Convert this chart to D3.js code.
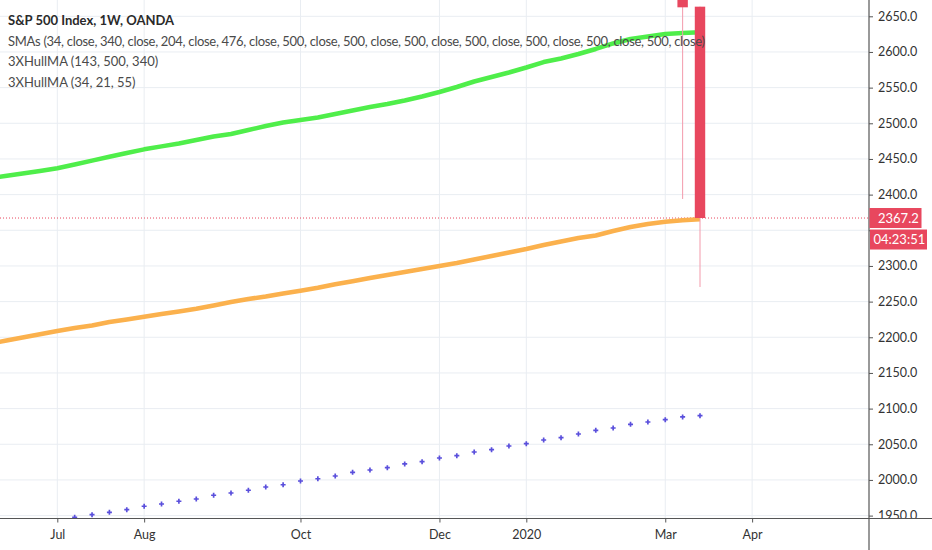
<!DOCTYPE html>
<html>
<head>
<meta charset="utf-8">
<script src="https://cdnjs.cloudflare.com/ajax/libs/d3/7.8.5/d3.min.js"></script>
<style>
  body { margin: 0; background: #fff; }
  svg text { font-family: Lato, "Liberation Sans", sans-serif; }
</style>
</head>
<body>
<svg id="chart" width="932" height="550"></svg>
<script>
// weekly bars, Jun 3 2019 .. Mar 16 2020
const weeks = d3.utcMonday.range(Date.UTC(2019, 5, 3), Date.UTC(2020, 2, 17))

// SMAs (green) and 3XHullMA 143 (orange), one value per week
const smaGreen = [2422.6, 2426.1, 2429.6, 2433.1, 2436.9, 2442.2, 2447.7, 2453.0, 2458.4, 2463.5,
    2467.6, 2471.7, 2476.6, 2481.5, 2485.0, 2490.6, 2496.2, 2501.1, 2504.6, 2508.1,
    2513.0, 2517.9, 2522.8, 2527.0, 2532.0, 2537.6, 2543.9, 2550.9, 2558.6, 2564.9,
    2571.2, 2578.2, 2585.9, 2590.8, 2597.1, 2604.2, 2611.9, 2618.2, 2621.7, 2625.2,
    2626.6, 2627.6]
const hullOrange = [2190.6, 2195.2, 2199.7, 2204.3, 2208.8, 2213.0, 2216.5, 2221.4, 2224.9, 2228.8,
    2232.6, 2236.1, 2239.9, 2244.6, 2249.5, 2253.7, 2257.2, 2261.4, 2265.3, 2269.4,
    2274.3, 2278.5, 2283.1, 2287.3, 2291.5, 2295.7, 2299.9, 2304.1, 2309.0, 2314.0,
    2318.9, 2323.8, 2329.4, 2334.3, 2339.2, 2342.7, 2349.0, 2354.6, 2358.8, 2362.0,
    2364.0, 2365.4]
// 3XHullMA 34 (blue crosses), from Jul 8 2019
const hullBlue = [1947.6, 1951.3, 1954.6, 1958.3, 1963.1, 1966.3, 1970.1, 1973.3, 1978.5, 1981.7,
    1985.5, 1990.1, 1993.3, 1998.5, 2001.7, 2005.5, 2010.7, 2013.9, 2017.2, 2022.4,
    2025.6, 2030.8, 2034.0, 2039.2, 2042.4, 2047.6, 2050.8, 2056.0, 2059.2, 2064.4,
    2069.6, 2072.8, 2078.0, 2081.2, 2084.5, 2088.3, 2090.1]

// last two candles
const candleDates = ["2020-03-09", "2020-03-16"]
const candleOpen = [2760.0, 2663.5]
const candleHigh = [2790.0, 2663.5]
const candleLow = [2393.9, 2270.5]
const candleClose = [2662.6, 2367.2]

const lastPrice = 2367.2
const countdown = "04:23:51"

const monthTicks = ["2019-07-01", "2019-08-05", "2019-10-07", "2019-12-02", "2020-01-06", "2020-03-02", "2020-04-06"]
const monthLabels = ["Jul", "Aug", "Oct", "Dec", "2020", "Mar", "Apr"]
const priceTicks = d3.range(1950, 2651, 50)
const hiddenTick = 2350   // sits under the price tags

const legendLines = [
    "S&P 500 Index, 1W, OANDA",
    "SMAs (34, close, 340, close, 204, close, 476, close, 500, close, 500, close, 500, close, 500, close, 500, close, 500, close, 500, close)",
    "3XHullMA (143, 500, 340)",
    "3XHullMA (34, 21, 55)"
]

const parse = d3.utcParse("%Y-%m-%d")
const width = 932, height = 550
const plotW = 869, plotH = 518.5

const x = d3.scaleUtc()
    .domain([parse("2019-07-01"), parse("2020-03-16")])
    .range([57.3, 700])
const y = d3.scaleLinear()
    .domain([1950, 2650])
    .range([515.6, 16.3])
const barStep = x(weeks[1]) - x(weeks[0])

const red = "#e8475e"
const svg = d3.select("#chart")

svg.append("defs").append("clipPath").attr("id", "plotClip")
    .append("rect").attr("width", plotW).attr("height", plotH)

// grid
const grid = svg.append("g")
grid.selectAll(".hgrid")
    .data(priceTicks)
    .enter().append("line")
    .attr("x1", 0).attr("x2", plotW)
    .attr("y1", d => y(d)).attr("y2", d => y(d))
    .attr("stroke", "#e9edf2").attr("stroke-width", 1)
grid.selectAll(".vgrid")
    .data(monthTicks)
    .enter().append("line")
    .attr("x1", d => x(parse(d))).attr("x2", d => x(parse(d)))
    .attr("y1", 0).attr("y2", plotH)
    .attr("stroke", "#e9edf2").attr("stroke-width", 1)

const plot = svg.append("g").attr("clip-path", "url(#plotClip)")

// last price dotted line
plot.append("line")
    .attr("x1", 0).attr("x2", plotW)
    .attr("y1", y(lastPrice)).attr("y2", y(lastPrice))
    .attr("stroke", red).attr("stroke-width", 1)
    .attr("stroke-dasharray", "1,2")

const line = d3.line()
    .x((d, i) => x(weeks[i]))
    .y(d => y(d))

plot.append("path")
    .datum(hullOrange)
    .attr("d", line)
    .attr("fill", "none")
    .attr("stroke", "#fbb14d")
    .attr("stroke-width", 4.5)
    .attr("stroke-linejoin", "round")

plot.append("path")
    .datum(smaGreen)
    .attr("d", line)
    .attr("fill", "none")
    .attr("stroke", "#4fee4a")
    .attr("stroke-width", 4.5)
    .attr("stroke-linejoin", "round")

// blue crosses
const blueDates = weeks.slice(weeks.length - hullBlue.length)
plot.selectAll(".cross")
    .data(hullBlue)
    .enter().append("path")
    .attr("class", "cross")
    .attr("d", d3.symbol().type(d3.symbolCross).size(14))
    .attr("transform", (d, i) => `translate(${x(blueDates[i])},${y(d)})`)
    .attr("fill", "#5a4fdc")

// candles
const candles = candleDates.map((d, i) => ({
    date: parse(d), o: candleOpen[i], h: candleHigh[i], l: candleLow[i], c: candleClose[i]
}))
plot.selectAll(".wick")
    .data(candles)
    .enter().append("line")
    .attr("x1", d => x(d.date)).attr("x2", d => x(d.date))
    .attr("y1", d => y(d.h)).attr("y2", d => y(d.l))
    .attr("stroke", "#f39aab").attr("stroke-width", 1)
plot.selectAll(".body")
    .data(candles)
    .enter().append("rect")
    .attr("x", d => x(d.date) - barStep * 0.3)
    .attr("width", barStep * 0.6)
    .attr("y", d => y(Math.max(d.o, d.c)))
    .attr("height", d => Math.abs(y(d.o) - y(d.c)))
    .attr("fill", red)

// legend
svg.selectAll(".legend")
    .data(legendLines)
    .enter().append("text")
    .attr("x", 8)
    .attr("y", (d, i) => 25 + i * 20.6)
    .attr("font-size", 13)
    .attr("font-weight", (d, i) => i == 0 ? "bold" : "normal")
    .attr("fill", (d, i) => i == 0 ? "#2a2a2a" : "#4a4a4a")
    .attr("textLength", (d, i) => i == 1 ? 697 : null)
    .attr("lengthAdjust", "spacing")
    .text(d => d)

// price axis
const yAxis = d3.axisRight(y)
    .tickValues(priceTicks)
    .tickFormat(d => d == hiddenTick ? "" : d3.format(".1f")(d))
    .tickSize(4)
    .tickPadding(5)
const yg = svg.append("g")
    .attr("transform", `translate(${plotW},0)`)
    .call(yAxis)
yg.select(".domain").remove()
yg.selectAll("line").attr("stroke", "#555")
yg.selectAll("text").attr("font-size", 12.5).attr("fill", "#333")
    .style("font-family", "Lato, sans-serif")

// time axis area
svg.append("rect")
    .attr("x", 0).attr("y", plotH).attr("width", width).attr("height", height - plotH)
    .attr("fill", "#fff")
const xAxis = d3.axisBottom(x)
    .tickValues(monthTicks.map(parse))
    .tickFormat((d, i) => monthLabels[i])
    .tickSize(4)
    .tickPadding(8)
const xg = svg.append("g")
    .attr("transform", `translate(0,${plotH})`)
    .call(xAxis)
xg.select(".domain").remove()
xg.selectAll("line").attr("stroke", "#555")
xg.selectAll("text").attr("font-size", 12.5).attr("fill", "#333")
    .style("font-family", "Lato, sans-serif")

svg.append("line")
    .attr("x1", 0).attr("x2", width)
    .attr("y1", plotH).attr("y2", plotH)
    .attr("stroke", "#555").attr("stroke-width", 1.2)
svg.append("line")
    .attr("x1", plotW).attr("x2", plotW)
    .attr("y1", 0).attr("y2", height)
    .attr("stroke", "#555").attr("stroke-width", 1.2)

// last price and countdown tags
const tagY = y(lastPrice)
svg.append("rect")
    .attr("x", plotW + 0.5).attr("y", tagY - 10)
    .attr("width", 52).attr("height", 20)
    .attr("fill", red)
svg.append("text")
    .attr("x", 878).attr("y", tagY + 4.5)
    .attr("font-size", 13).attr("fill", "#fff")
    .text(lastPrice.toFixed(1))
svg.append("rect")
    .attr("x", plotW + 1).attr("y", tagY + 11.5)
    .attr("width", 57).attr("height", 20)
    .attr("fill", red)
svg.append("text")
    .attr("x", 873.5).attr("y", tagY + 26)
    .attr("font-size", 13).attr("fill", "#fff")
    .text(countdown)
</script>
</body>
</html>
